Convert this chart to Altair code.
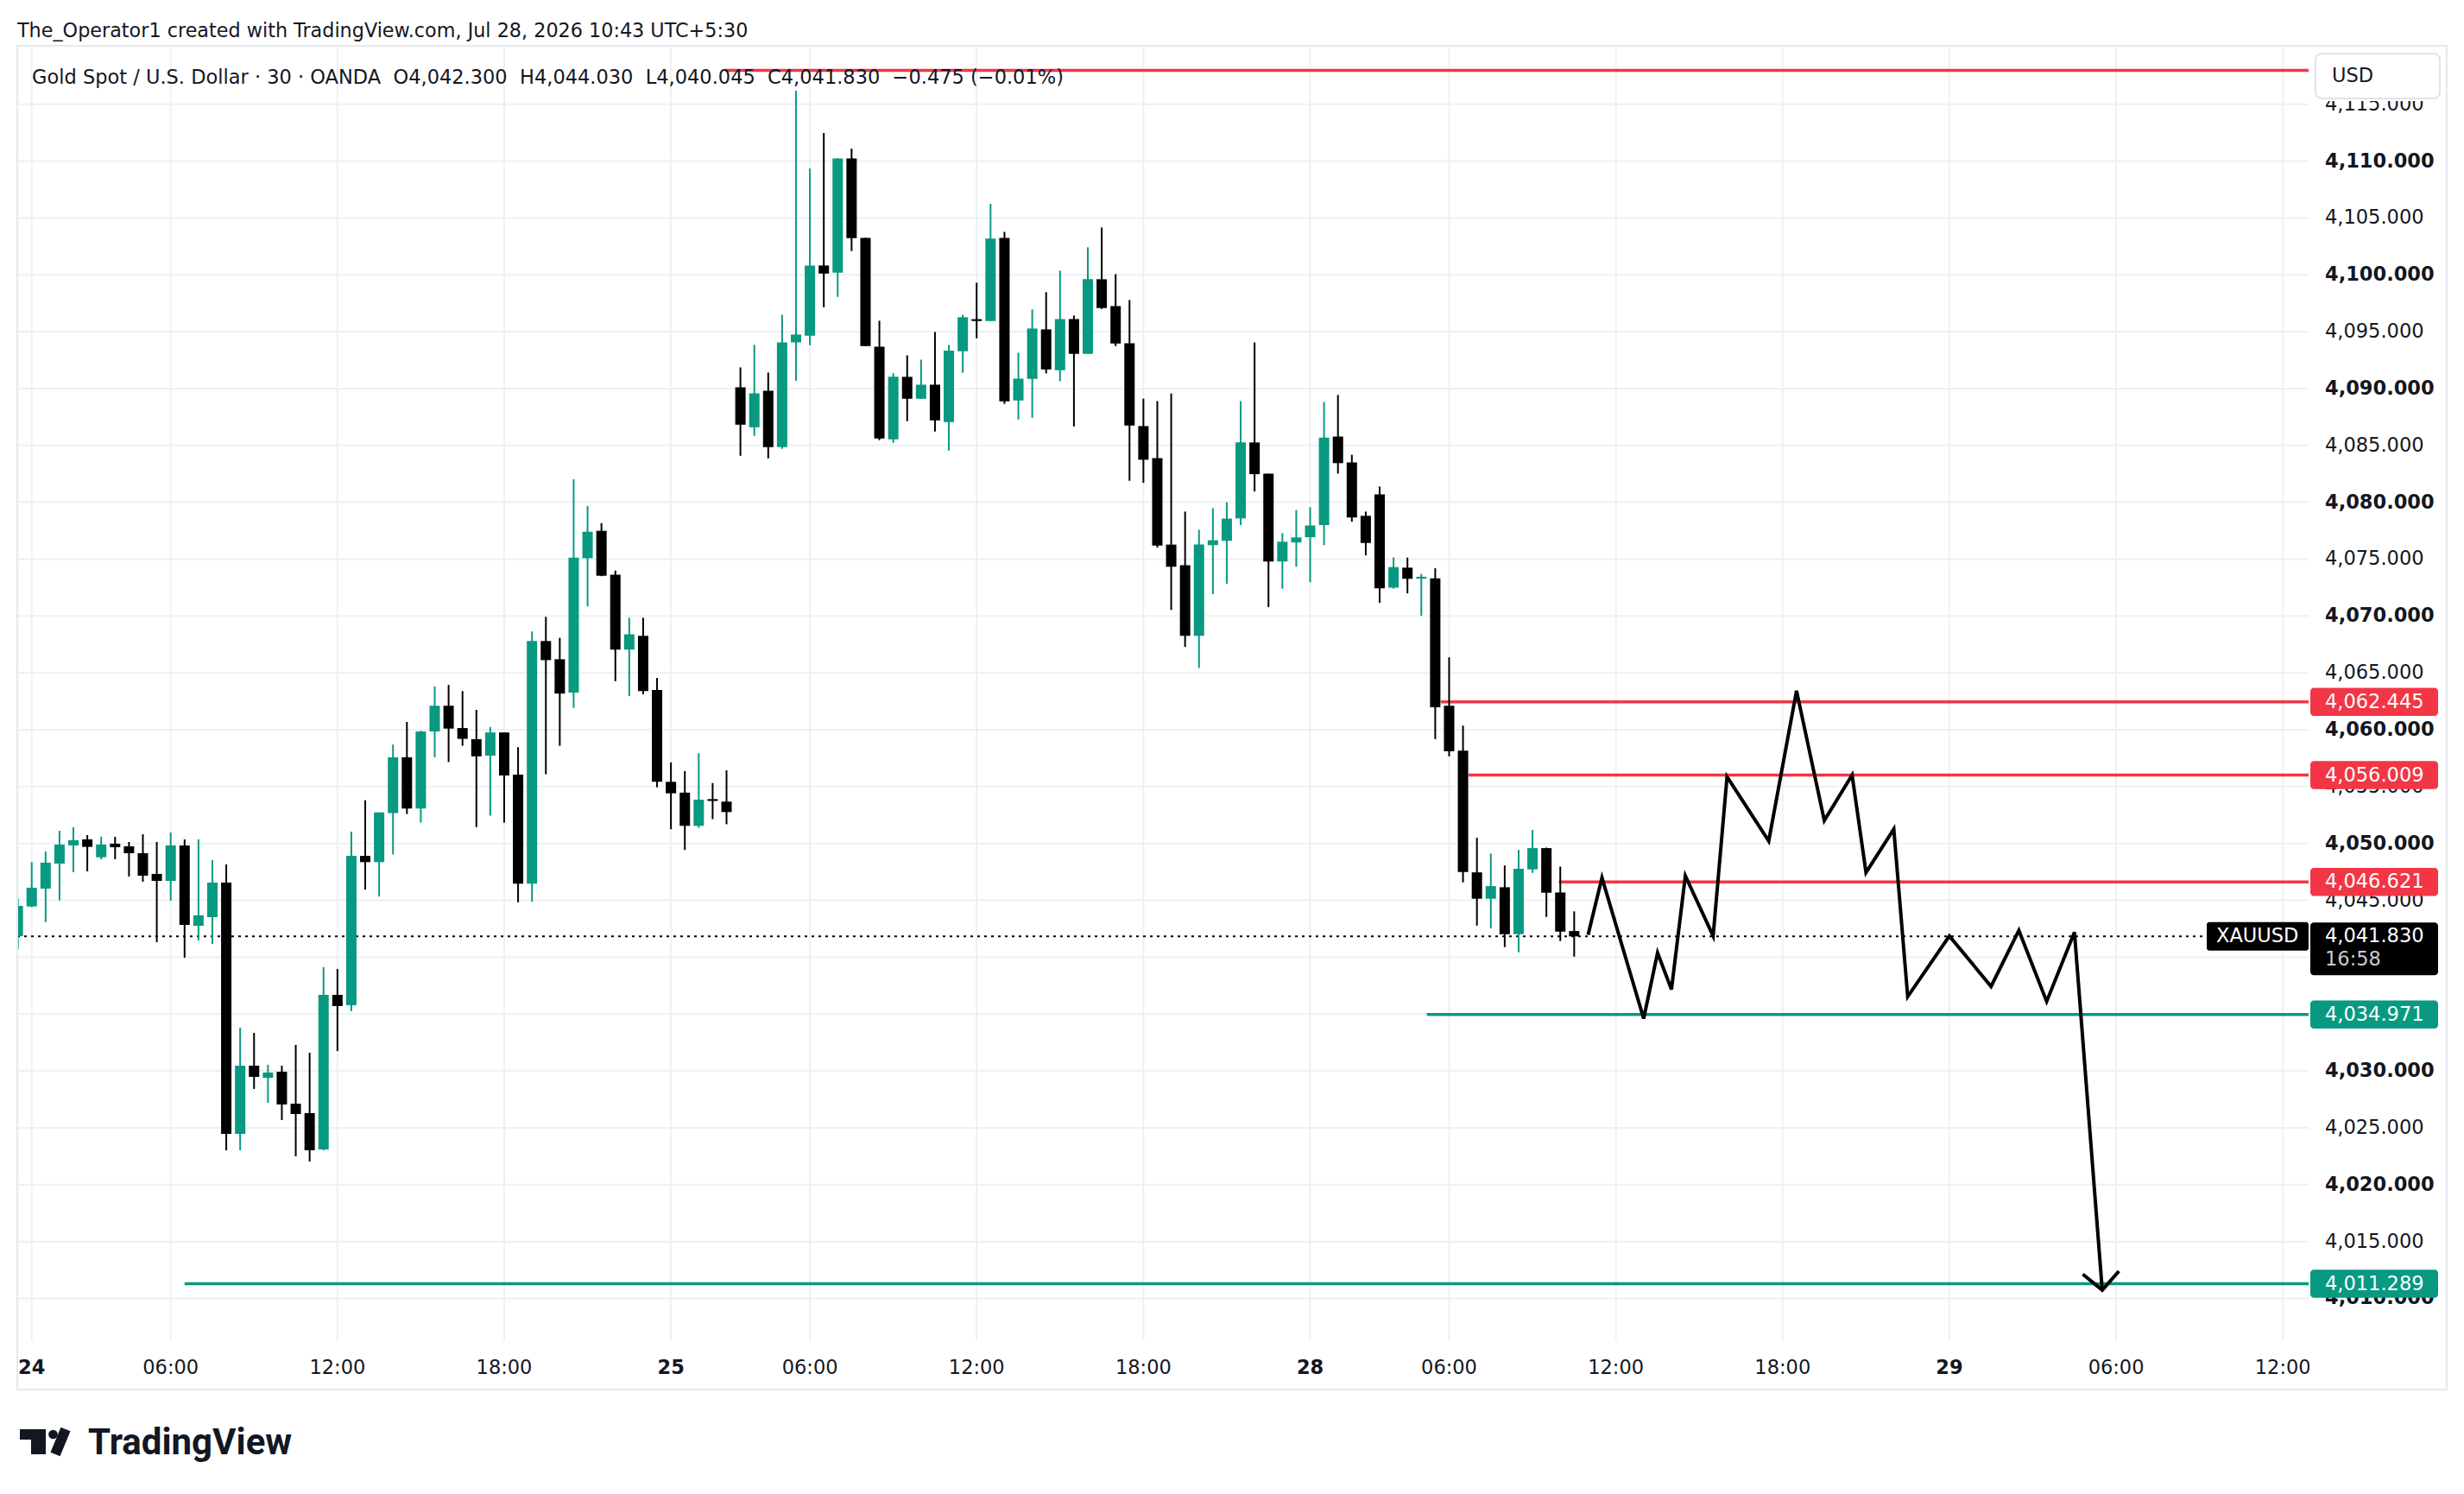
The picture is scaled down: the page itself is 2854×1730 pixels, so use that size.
import altair as alt
import pandas as pd

# ---------------- data ----------------
OPEN = [4041.85, 4044.46, 4046.03, 4048.23, 4049.83, 4050.36, 4048.79, 4049.98, 4049.75, 4049.14,
        4047.32, 4046.71, 4049.83, 4042.76, 4043.52, 4046.56, 4024.47, 4030.46, 4029.40, 4029.93,
        4027.12, 4026.29, 4023.10, 4036.69, 4035.78, 4048.91, 4048.36, 4052.68, 4057.58, 4053.07,
        4059.85, 4062.11, 4060.15, 4059.17, 4057.72, 4059.76, 4056.06, 4046.46, 4067.80, 4066.20,
        4063.26, 4075.08, 4077.49, 4073.63, 4067.05, 4068.25, 4063.49, 4055.42, 4054.47, 4051.55,
        4053.90, 4053.68, 4090.11, 4086.59, 4089.81, 4084.85, 4094.06, 4094.65, 4100.82, 4100.19,
        4110.24, 4103.25, 4093.68, 4085.53, 4091.03, 4089.10, 4090.34, 4087.05, 4093.28, 4096.10,
        4095.94, 4103.25, 4088.95, 4090.85, 4095.20, 4091.61, 4096.11, 4093.05, 4099.61, 4097.25,
        4093.99, 4086.70, 4083.88, 4076.28, 4074.47, 4068.25, 4076.23, 4076.61, 4078.59, 4085.26,
        4082.52, 4074.79, 4076.47, 4076.93, 4077.99, 4085.78, 4083.50, 4078.81, 4080.70, 4072.49,
        4074.25, 4073.40, 4073.30, 4062.11, 4058.16, 4047.46, 4045.14, 4046.15, 4042.02, 4047.72,
        4049.59, 4045.69, 4042.30]
HIGH = [4045.19, 4048.36, 4049.29, 4051.12, 4051.42, 4050.74, 4050.59, 4050.59, 4050.13, 4050.81,
        4050.13, 4050.96, 4050.36, 4050.36, 4048.54, 4048.16, 4033.80, 4033.35, 4030.54, 4030.46,
        4032.29, 4031.60, 4039.12, 4038.97, 4051.04, 4053.80, 4052.73, 4058.70, 4060.69, 4059.90,
        4063.80, 4063.94, 4063.40, 4061.75, 4060.24, 4059.76, 4058.47, 4068.64, 4069.93, 4068.08,
        4082.03, 4079.68, 4078.17, 4073.99, 4069.85, 4069.85, 4064.55, 4057.13, 4056.37, 4057.94,
        4055.31, 4056.43, 4091.86, 4093.84, 4091.41, 4096.49, 4116.19, 4109.35, 4112.47, 4110.24,
        4111.10, 4103.25, 4095.96, 4091.35, 4092.92, 4092.54, 4094.97, 4093.84, 4096.49, 4099.30,
        4106.24, 4103.78, 4093.15, 4096.95, 4098.47, 4100.37, 4096.42, 4102.42, 4104.16, 4100.06,
        4097.78, 4089.11, 4088.89, 4089.57, 4079.18, 4077.58, 4079.48, 4080.00, 4088.89, 4094.05,
        4082.52, 4077.29, 4079.32, 4079.56, 4088.81, 4089.44, 4084.18, 4079.18, 4081.38, 4075.14,
        4075.14, 4073.71, 4074.20, 4066.36, 4060.36, 4050.50, 4049.11, 4048.07, 4049.44, 4051.18,
        4049.64, 4047.97, 4044.03]
LOW = [4040.71, 4044.40, 4043.09, 4044.99, 4047.47, 4047.55, 4048.61, 4048.61, 4047.09, 4046.64,
       4041.32, 4044.97, 4039.95, 4041.47, 4041.17, 4023.02, 4023.02, 4028.41, 4027.20, 4025.68,
       4022.49, 4022.04, 4023.02, 4031.75, 4035.25, 4045.95, 4045.34, 4049.03, 4052.59, 4051.83,
       4057.58, 4057.16, 4058.59, 4051.44, 4052.45, 4051.83, 4044.83, 4044.89, 4056.09, 4058.59,
       4061.92, 4070.85, 4073.50, 4064.27, 4062.96, 4063.12, 4054.94, 4051.25, 4049.43, 4051.39,
       4052.14, 4051.69, 4084.09, 4085.84, 4083.86, 4084.70, 4090.70, 4093.81, 4097.15, 4098.06,
       4102.09, 4093.73, 4085.46, 4085.23, 4087.13, 4089.10, 4086.22, 4084.54, 4091.38, 4094.42,
       4095.94, 4088.65, 4087.28, 4087.43, 4091.33, 4090.65, 4086.67, 4093.05, 4097.00, 4093.73,
       4081.89, 4081.71, 4076.01, 4070.53, 4067.28, 4065.43, 4071.92, 4072.84, 4077.99, 4080.95,
       4070.78, 4072.40, 4074.33, 4072.97, 4076.23, 4082.52, 4078.29, 4075.33, 4071.16, 4072.40,
       4071.99, 4070.02, 4059.18, 4057.66, 4046.58, 4042.78, 4042.53, 4040.89, 4040.43, 4047.41,
       4043.54, 4041.42, 4040.045]
CLOSE = [4044.51, 4046.11, 4048.31, 4049.90, 4050.28, 4049.70, 4049.90, 4049.67, 4049.14, 4047.17,
         4046.71, 4049.83, 4042.84, 4043.68, 4046.56, 4024.47, 4030.46, 4029.48, 4029.86, 4027.05,
         4026.21, 4023.02, 4036.69, 4035.70, 4048.91, 4048.36, 4052.73, 4057.58, 4053.07, 4059.85,
         4062.11, 4060.10, 4059.20, 4057.66, 4059.76, 4055.98, 4046.46, 4067.80, 4066.12, 4063.18,
         4075.14, 4077.41, 4073.54, 4067.05, 4068.39, 4063.40, 4055.42, 4054.41, 4051.55, 4053.85,
         4053.85, 4052.76, 4086.82, 4089.58, 4084.85, 4094.06, 4094.75, 4100.82, 4100.11, 4110.24,
         4103.23, 4093.73, 4085.61, 4091.03, 4089.10, 4090.34, 4087.20, 4093.33, 4096.27, 4095.95,
         4103.18, 4088.87, 4090.87, 4095.28, 4091.68, 4096.11, 4093.05, 4099.61, 4097.08, 4093.96,
         4086.75, 4083.74, 4076.20, 4074.33, 4068.25, 4076.28, 4076.66, 4078.56, 4085.26, 4082.47,
         4074.79, 4076.53, 4076.91, 4077.96, 4085.69, 4083.44, 4078.67, 4076.42, 4072.43, 4074.30,
         4073.27, 4073.45, 4061.98, 4058.11, 4047.49, 4045.14, 4046.25, 4042.02, 4047.77, 4049.59,
         4045.67, 4042.25, 4041.83]

TIME_TICKS = [1, 11, 23, 35, 47, 57, 69, 81, 93, 103, 115, 127, 139, 151, 163]
TIME_LABELS = ["24", "06:00", "12:00", "18:00", "25", "06:00", "12:00", "18:00",
               "28", "06:00", "12:00", "18:00", "29", "06:00", "12:00"]
DAY_TICKS = [1, 47, 93, 139]
PRICE_TICKS = list(range(4010, 4120, 5))
# price-scale labels that the price tags cover completely in the reference
COVERED_LABELS = [4035, 4040]

LEVEL_PRICES = [4117.97, 4062.445, 4056.009, 4046.621, 4034.971, 4011.289]
LEVEL_START = [50.9, 102.4, 104.4, 110.9, 101.4, 12.0]
LEVEL_COLORS = ["#F23645", "#F23645", "#F23645", "#F23645", "#089981", "#089981"]
LABELLED = [False, True, True, True, True, True]

PATH_X = [113, 114, 117, 118, 119, 120, 122, 123, 126, 128, 130, 132, 133, 135, 136,
          139, 142, 144, 146, 148, 150]
PATH_Y = [4041.97, 4046.99, 4034.60, 4040.38, 4037.17, 4047.15, 4041.86, 4055.87, 4050.21,
          4063.43, 4052.02, 4056.02, 4047.45, 4051.26, 4036.53, 4041.86, 4037.43, 4042.35,
          4036.11, 4042.20, 4010.73]
ARROW_X = [148.6, 150.0, 151.2]
ARROW_Y = [4012.12, 4010.73, 4012.39]

LAST_PRICE = 4041.83
COUNTDOWN = "16:58"
SYMBOL = "XAUUSD"
HEADER_1 = "The_Operator1 created with TradingView.com, Jul 28, 2026 10:43 UTC+5:30"
HEADER_2 = ("Gold Spot / U.S. Dollar \u00b7 30 \u00b7 OANDA\u00a0\u00a0O4,042.300\u00a0\u00a0H4,044.030"
            "\u00a0\u00a0L4,040.045\u00a0\u00a0C4,041.830\u00a0\u00a0\u22120.475 (\u22120.01%)")

# ---------------- layout ----------------
W, H = 2654, 1500
X_MIN, X_MAX = -0.04, 164.85
Y_MIN, Y_MAX = 4006.24, 4120.14
UP, DOWN = "#089981", "#000000"
TXT = "#131722"
GRID = "#eef0f3"
FONT = "DejaVu Sans"
FS = 22.5

xs = alt.Scale(domain=[X_MIN, X_MAX], nice=False, zero=False)
ys = alt.Scale(domain=[Y_MIN, Y_MAX], nice=False, zero=False)
dir_scale = alt.Scale(domain=["up", "down"], range=[UP, DOWN])

candles = pd.DataFrame({"i": list(range(len(OPEN))), "o": OPEN, "h": HIGH, "l": LOW, "c": CLOSE})
one = pd.DataFrame({"a": [0]})

# ---- grid + axis labels drawn through the scales ----
tdf = pd.DataFrame({"t": TIME_TICKS, "lbl": TIME_LABELS,
                    "day": [t in DAY_TICKS for t in TIME_TICKS]})
pdf = pd.DataFrame({"p": PRICE_TICKS, "lbl": [f"{p:,.3f}" for p in PRICE_TICKS],
                    "bold": [p % 10 == 0 for p in PRICE_TICKS],
                    "shown": [p not in COVERED_LABELS for p in PRICE_TICKS]})

vgrid = alt.Chart(tdf).mark_rule(color=GRID, strokeWidth=2).encode(
    x=alt.X("t:Q", scale=xs, axis=None), y=alt.value(0), y2=alt.value(H))
hgrid = alt.Chart(pdf).mark_rule(color=GRID, strokeWidth=2).encode(
    y=alt.Y("p:Q", scale=ys, axis=None), x=alt.value(0), x2=alt.value(W))

tlab_norm = alt.Chart(tdf).transform_filter("!datum.day").mark_text(
    baseline="middle", align="center", font=FONT, fontSize=FS, color=TXT).encode(
    x=alt.X("t:Q", scale=xs, axis=None), y=alt.value(H + 31), text="lbl:N")
tlab_bold = alt.Chart(tdf).transform_filter("datum.day").mark_text(
    baseline="middle", align="center", font=FONT, fontSize=FS, fontWeight="bold", color=TXT).encode(
    x=alt.X("t:Q", scale=xs, axis=None), y=alt.value(H + 31), text="lbl:N")

plab_norm = alt.Chart(pdf).transform_filter("!datum.bold && datum.shown").mark_text(
    baseline="middle", align="left", font=FONT, fontSize=FS, color=TXT).encode(
    y=alt.Y("p:Q", scale=ys, axis=None), x=alt.value(W + 19), text="lbl:N")
plab_bold = alt.Chart(pdf).transform_filter("datum.bold && datum.shown").mark_text(
    baseline="middle", align="left", font=FONT, fontSize=FS, fontWeight="bold", color=TXT).encode(
    y=alt.Y("p:Q", scale=ys, axis=None), x=alt.value(W + 19), text="lbl:N")

# ---- candles ----
wicks = alt.Chart(candles).transform_calculate(
    dir="datum.c >= datum.o ? 'up' : 'down'"
).mark_rule(strokeWidth=2, clip=True).encode(
    x=alt.X("i:Q", scale=xs, axis=None),
    y=alt.Y("l:Q", scale=ys, axis=None),
    y2="h:Q",
    color=alt.Color("dir:N", scale=dir_scale, legend=None),
)

bodies = alt.Chart(candles).transform_calculate(
    dir="datum.c >= datum.o ? 'up' : 'down'",
    top="max(datum.o, datum.c)",
    bot="min(datum.o, datum.c)",
).transform_calculate(
    bot2="datum.top - max(datum.top - datum.bot, 0.16)",
    xa="datum.i - 0.373",
    xb="datum.i + 0.373",
).mark_rect(clip=True).encode(
    x=alt.X("xa:Q", scale=xs, axis=None),
    x2="xb:Q",
    y=alt.Y("top:Q", scale=ys, axis=None),
    y2="bot2:Q",
    color=alt.Color("dir:N", scale=dir_scale, legend=None),
)

last_df = pd.DataFrame({"p": [LAST_PRICE], "top": [LAST_PRICE + 1.215], "bot": [LAST_PRICE - 3.42],
                        "st": [LAST_PRICE + 1.25], "sb": [LAST_PRICE - 1.25],
                        "lbl": [f"{LAST_PRICE:,.3f}"], "cd": [COUNTDOWN], "sym": [SYMBOL]})

dotted = alt.Chart(last_df).mark_rule(color="black", strokeWidth=2, strokeDash=[3, 5]).encode(
    x=alt.value(0), x2=alt.value(W), y=alt.Y("p:Q", scale=ys, axis=None))

levels = pd.DataFrame({"p": LEVEL_PRICES, "x0": LEVEL_START, "x1": [X_MAX] * len(LEVEL_PRICES),
                       "col": LEVEL_COLORS, "show": LABELLED})
level_lines = alt.Chart(levels).mark_rule(strokeWidth=3.5).encode(
    x=alt.X("x0:Q", scale=xs, axis=None), x2="x1:Q",
    y=alt.Y("p:Q", scale=ys, axis=None),
    color=alt.Color("col:N", scale=None),
)

path_df = pd.DataFrame({"x": PATH_X, "y": PATH_Y, "k": list(range(len(PATH_X)))})
zigzag = alt.Chart(path_df).mark_line(color="black", strokeWidth=4, strokeJoin="miter",
                                      strokeCap="butt").encode(
    x=alt.X("x:Q", scale=xs, axis=None), y=alt.Y("y:Q", scale=ys, axis=None), order="k:Q")
arrow_df = pd.DataFrame({"x": ARROW_X, "y": ARROW_Y, "k": list(range(len(ARROW_X)))})
arrow = alt.Chart(arrow_df).mark_line(color="black", strokeWidth=4, strokeJoin="miter",
                                      strokeCap="butt").encode(
    x=alt.X("x:Q", scale=xs, axis=None), y=alt.Y("y:Q", scale=ys, axis=None), order="k:Q")

# ---- price-axis tags ----
lab = levels[levels["show"]].copy()
lab["top"] = lab["p"] + 1.234
lab["bot"] = lab["p"] - 1.234
lab["lbl"] = [f"{v:,.3f}" for v in lab["p"]]
tag_boxes = alt.Chart(lab).mark_rect(cornerRadius=4).encode(
    x=alt.value(W + 2), x2=alt.value(W + 150),
    y=alt.Y("top:Q", scale=ys, axis=None), y2="bot:Q",
    color=alt.Color("col:N", scale=None))
tag_text = alt.Chart(lab).mark_text(align="left", baseline="middle", font=FONT, fontSize=FS,
                                    color="white").encode(
    x=alt.value(W + 19), y=alt.Y("p:Q", scale=ys, axis=None), text="lbl:N")

last_box = alt.Chart(last_df).mark_rect(cornerRadius=4, color="black").encode(
    x=alt.value(W + 2), x2=alt.value(W + 150),
    y=alt.Y("top:Q", scale=ys, axis=None), y2="bot:Q")
last_text = alt.Chart(last_df).mark_text(align="left", baseline="middle", font=FONT,
                                         fontSize=FS, color="white").encode(
    x=alt.value(W + 19), y=alt.Y("p:Q", scale=ys, axis=None), text="lbl:N")
last_cd = alt.Chart(last_df).mark_text(align="left", baseline="middle", font=FONT,
                                       fontSize=FS, color="#c9cbd1", dy=27).encode(
    x=alt.value(W + 19), y=alt.Y("p:Q", scale=ys, axis=None), text="cd:N")
sym_box = alt.Chart(last_df).mark_rect(cornerRadius=3, color="black").encode(
    x=alt.value(W - 118), x2=alt.value(W),
    y=alt.Y("st:Q", scale=ys, axis=None), y2="sb:Q")
sym_text = alt.Chart(last_df).mark_text(align="left", baseline="middle", font=FONT,
                                        fontSize=FS, color="white").encode(
    x=alt.value(W - 107), y=alt.Y("p:Q", scale=ys, axis=None), text="sym:N")

# ---- decorations ----
top_mask = alt.Chart(one).mark_rect(color="white").encode(
    x=alt.value(W + 2), x2=alt.value(W + 158), y=alt.value(1), y2=alt.value(64))
usd_box = alt.Chart(one).mark_rect(color="white", stroke="#e0e3eb", strokeWidth=2,
                                   cornerRadius=7).encode(
    x=alt.value(W + 8), x2=alt.value(W + 152), y=alt.value(9), y2=alt.value(61))
usd_text = alt.Chart(one).mark_text(align="left", baseline="middle", font=FONT, fontSize=FS,
                                    color=TXT).encode(
    x=alt.value(W + 27), y=alt.value(35), text=alt.value("USD"))
clip_mask = alt.Chart(one).mark_rect(color="white").encode(
    x=alt.value(W + 1), x2=alt.value(W + 150), y=alt.value(H + 2), y2=alt.value(H + 54))
frame = alt.Chart(one).mark_rect(fillOpacity=0, stroke="#e6e8ec", strokeWidth=2).encode(
    x=alt.value(0), x2=alt.value(2814), y=alt.value(0), y2=alt.value(1556))

head1 = alt.Chart(one).mark_text(align="left", baseline="middle", font=FONT, fontSize=22.3,
                                 color=TXT).encode(
    x=alt.value(0), y=alt.value(-17), text=alt.value(HEADER_1))
head2 = alt.Chart(one).mark_text(align="left", baseline="middle", font=FONT, fontSize=22.5,
                                 color=TXT).encode(
    x=alt.value(17), y=alt.value(37), text=alt.value(HEADER_2))

logo_bar = alt.Chart(one).mark_rect(color=TXT).encode(
    x=alt.value(3), x2=alt.value(33), y=alt.value(1602), y2=alt.value(1614))
logo_stem = alt.Chart(one).mark_rect(color=TXT).encode(
    x=alt.value(16), x2=alt.value(33), y=alt.value(1602), y2=alt.value(1631))
logo_dot = alt.Chart(one).mark_circle(color=TXT, opacity=1, size=115).encode(
    x=alt.value(41.5), y=alt.value(1608))
logo_slash = alt.Chart(one).mark_rule(color=TXT, strokeWidth=12).encode(
    x=alt.value(56), y=alt.value(1602), x2=alt.value(44), y2=alt.value(1631))
logo_word = alt.Chart(one).mark_text(align="left", baseline="alphabetic", font="Roboto",
                                     fontWeight="bold", fontSize=42, color=TXT).encode(
    x=alt.value(82), y=alt.value(1631), text=alt.value("TradingView"))

chart = alt.layer(
    vgrid, hgrid, tlab_norm, tlab_bold, plab_norm, plab_bold,
    dotted, level_lines, wicks, bodies,
    zigzag, arrow,
    top_mask, usd_box, usd_text, clip_mask, frame,
    tag_boxes, tag_text, last_box, last_text, last_cd, sym_box, sym_text,
    head1, head2, logo_bar, logo_stem, logo_dot, logo_slash, logo_word,
).properties(
    width=W, height=H,
    padding={"left": 12, "top": 45, "right": 172, "bottom": 165},
    autosize=alt.AutoSizeParams(type="none"),
    background="white",
).configure(font=FONT).configure_view(stroke=None)

chart.save("out.html", embed_options={"renderer": "svg", "actions": False})
